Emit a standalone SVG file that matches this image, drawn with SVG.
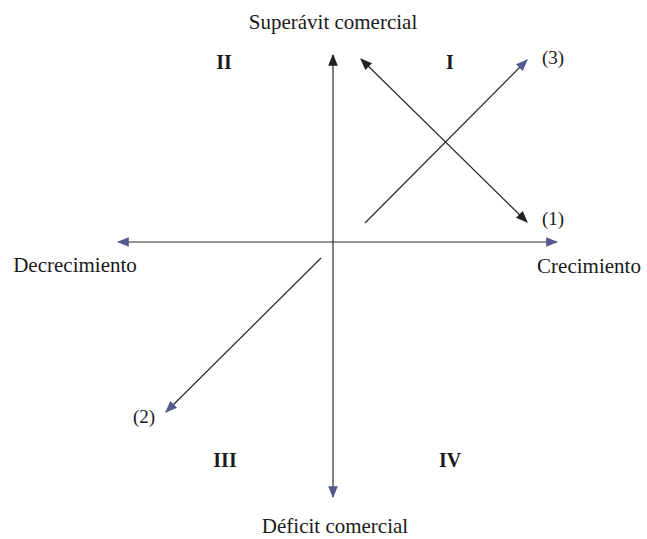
<svg xmlns="http://www.w3.org/2000/svg" width="647" height="539" viewBox="0 0 647 539">
<style>
text{font-family:"Liberation Serif","Times New Roman",serif;font-size:21px;fill:#1a1a1a}
.b{font-weight:bold;font-size:20px}
.n{font-size:19px}
.ln{stroke:#2a2a2a;stroke-width:1.2;fill:none}
</style>
<defs>
<marker id="ab" viewBox="0 0 10 10" refX="9" refY="5" markerWidth="12" markerHeight="12" markerUnits="userSpaceOnUse" orient="auto-start-reverse"><path d="M0,1 L10,5 L0,9 z" fill="#55598f"/></marker>
<marker id="ad" viewBox="0 0 10 10" refX="9" refY="5" markerWidth="12" markerHeight="12" markerUnits="userSpaceOnUse" orient="auto-start-reverse"><path d="M0,1 L10,5 L0,9 z" fill="#222"/></marker>
</defs>
<rect width="647" height="539" fill="#fff"/>
<g id="connectors">
<line class="ln" x1="333" y1="497" x2="333" y2="55" marker-start="url(#ab)" marker-end="url(#ad)"/>
<line class="ln" x1="118" y1="242" x2="557" y2="242" marker-start="url(#ab)" marker-end="url(#ab)"/>
<line class="ln" x1="361" y1="59" x2="527" y2="222" marker-start="url(#ad)" marker-end="url(#ad)"/>
<line class="ln" x1="365" y1="223" x2="527" y2="60" marker-end="url(#ab)"/>
<line class="ln" x1="321" y1="258" x2="166" y2="412" marker-end="url(#ab)"/>
</g>
<g id="labels">
<text x="333" y="29" text-anchor="middle">Superávit comercial</text>
<text x="335" y="533" text-anchor="middle">Déficit comercial</text>
<text x="75" y="272" text-anchor="middle">Decrecimiento</text>
<text x="589" y="273" text-anchor="middle">Crecimiento</text>
<text class="b" x="224" y="69" text-anchor="middle">II</text>
<text class="b" x="450" y="69" text-anchor="middle">I</text>
<text class="b" x="225" y="467" text-anchor="middle">III</text>
<text class="b" x="450" y="467" text-anchor="middle">IV</text>
<text class="n" x="553" y="64" text-anchor="middle">(3)</text>
<text class="n" x="553" y="225" text-anchor="middle">(1)</text>
<text class="n" x="144" y="423" text-anchor="middle">(2)</text>
</g>
</svg>
